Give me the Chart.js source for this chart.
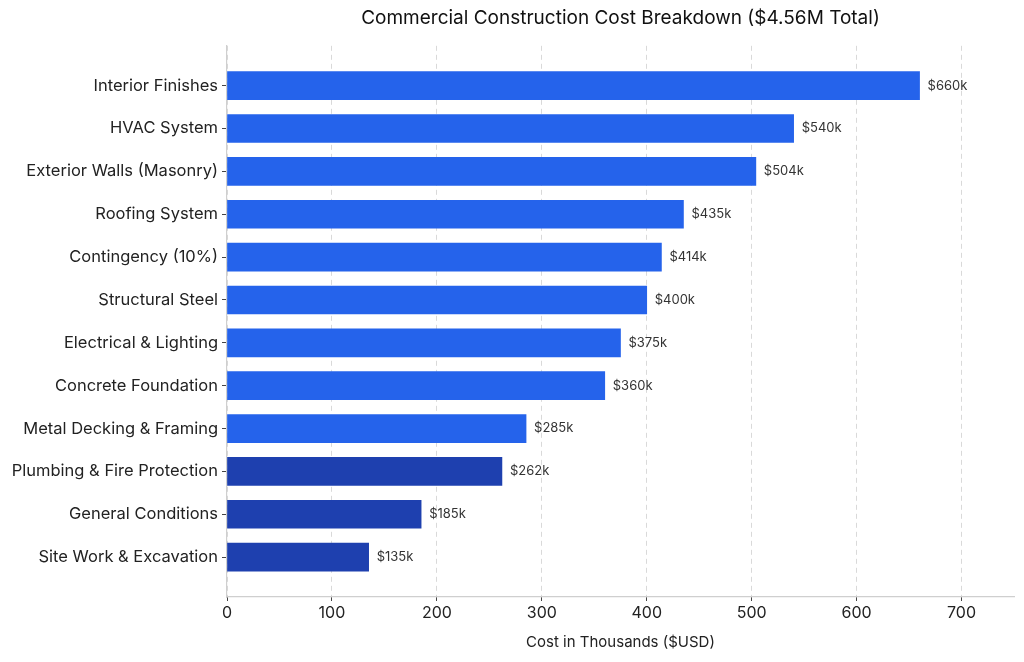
<!DOCTYPE html>
<html>
<head>
<meta charset="utf-8">
<script src="https://cdn.jsdelivr.net/npm/chart.js@4"></script>
<style>
  html, body { margin: 0; padding: 0; background: #fff; }
  #wrap { width: 1024px; height: 662px; }
</style>
</head>
<body>
<div id="wrap"><canvas id="costChart"></canvas></div>
<script>
// Chart data
const categories = [
  'Interior Finishes', 'HVAC System', 'Exterior Walls (Masonry)', 'Roofing System',
  'Contingency (10%)', 'Structural Steel', 'Electrical & Lighting', 'Concrete Foundation',
  'Metal Decking & Framing', 'Plumbing & Fire Protection', 'General Conditions', 'Site Work & Excavation'
];
const costs = [660, 540, 504, 435, 414, 400, 375, 360, 285, 262, 185, 135];
const xTicks = [0, 100, 200, 300, 400, 500, 600, 700];

const BLUE = '#2563eb';
const DARK_BLUE = '#1e40af';
const FONT = 'Inter, "Noto Sans", sans-serif';

// last three rows use the darker shade
const barColors = costs.map((v, i) => i >= categories.length - 3 ? DARK_BLUE : BLUE);

// value labels at the end of each bar
const valueLabels = {
  id: 'valueLabels',
  afterDatasetsDraw(chart) {
    const { ctx } = chart;
    const meta = chart.getDatasetMeta(0);
    ctx.save();
    ctx.font = '13px ' + FONT;
    ctx.fillStyle = '#333';
    ctx.textAlign = 'left';
    ctx.textBaseline = 'middle';
    meta.data.forEach((bar, i) => {
      ctx.fillText('$' + costs[i] + 'k', bar.x + 8, bar.y);
    });
    ctx.restore();
  }
};

new Chart(document.getElementById('costChart'), {
  type: 'bar',
  data: {
    datasets: [{
      data: costs.map((v, i) => ({ x: v, y: i })),
      backgroundColor: barColors,
      borderWidth: 0,
      barThickness: 28
    }]
  },
  options: {
    indexAxis: 'y',
    responsive: true,
    maintainAspectRatio: false,
    animation: false,
    layout: { padding: { left: 0, right: 10, top: 0, bottom: 0 } },
    plugins: {
      legend: { display: false },
      tooltip: { enabled: false },
      title: {
        display: true,
        fullSize: false,
        text: 'Commercial Construction Cost Breakdown ($4.56M Total)',
        color: '#111',
        font: { family: FONT, size: 19, weight: 'normal' },
        padding: { top: 7, bottom: 16 }
      }
    },
    scales: {
      x: {
        type: 'linear',
        bounds: 'data',
        min: 0,
        max: 750,
        afterBuildTicks: s => { s.ticks = xTicks.map(v => ({ value: v })); },
        afterFit: s => { s.height = 65; },
        ticks: {
          color: '#222',
          padding: 3,
          font: { family: FONT, size: 16 }
        },
        grid: {
          color: '#d9d9d9',
          tickColor: '#444',
          tickBorderDash: [],
          tickLength: 4
        },
        border: { color: '#cfcfcf', width: 1.2, dash: [5, 4] },
        title: {
          display: true,
          text: 'Cost in Thousands ($USD)',
          color: '#222',
          font: { family: FONT, size: 15 },
          padding: { top: 4, bottom: 11 }
        }
      },
      y: {
        type: 'linear',
        bounds: 'data',
        offset: false,
        reverse: true,
        min: -0.93,
        max: categories.length - 1 + 0.93,
        afterBuildTicks: s => { s.ticks = categories.map((c, i) => ({ value: i })); },
        afterFit: s => { s.width = 227; },
        ticks: {
          color: '#222',
          padding: 4,
          font: { family: FONT, size: 16.5 },
          callback: v => categories[v]
        },
        grid: {
          offset: false,
          drawOnChartArea: false,
          tickColor: '#444',
          tickLength: 5
        },
        border: { color: '#cfcfcf', width: 1.2 }
      }
    }
  },
  plugins: [valueLabels]
});
</script>
</body>
</html>
